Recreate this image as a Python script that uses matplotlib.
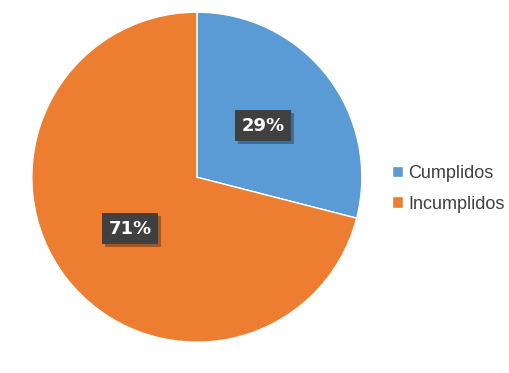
import matplotlib
matplotlib.use("Agg")
import matplotlib.pyplot as plt
import matplotlib.patheffects as pe

categories = ["Cumplidos", "Incumplidos"]
values = [29, 71]
colors = ["#5B9BD5", "#ED7D31"]

fig = plt.figure(figsize=(5.10, 3.73), dpi=100)
ax = fig.add_axes([0.386 - 0.3235, 0.525 - 0.4424, 0.647, 0.8848])
wedges, texts, autotexts = ax.pie(
    values, colors=colors, startangle=90, counterclock=False,
    autopct=lambda p: f"{p:.0f}%", pctdistance=0.51,
    wedgeprops=dict(edgecolor="white", linewidth=1.0),
    textprops=dict(color="white", fontsize=13, fontweight="bold", family="DejaVu Sans"),
)
for t in autotexts:
    t.set_bbox(dict(boxstyle="square,pad=0.35", facecolor="#404040", edgecolor="none"))
    t.get_bbox_patch().set_path_effects([
        pe.withSimplePatchShadow(offset=(2, -2), shadow_rgbFace="black", alpha=0.3), pe.Normal()])
ax.set_aspect("equal")
ax.set_xlim(-1, 1)
ax.set_ylim(-1, 1)

leg = fig.legend(wedges, categories, loc="center left", bbox_to_anchor=(0.737, 0.494),
                 frameon=False, prop=dict(family="Liberation Sans", size=13),
                 handlelength=0.6, handleheight=0.6,
                 handletextpad=0.3, labelspacing=0.75)
for txt in leg.get_texts():
    txt.set_color("#404040")
fig.savefig("out.png", dpi=100)
